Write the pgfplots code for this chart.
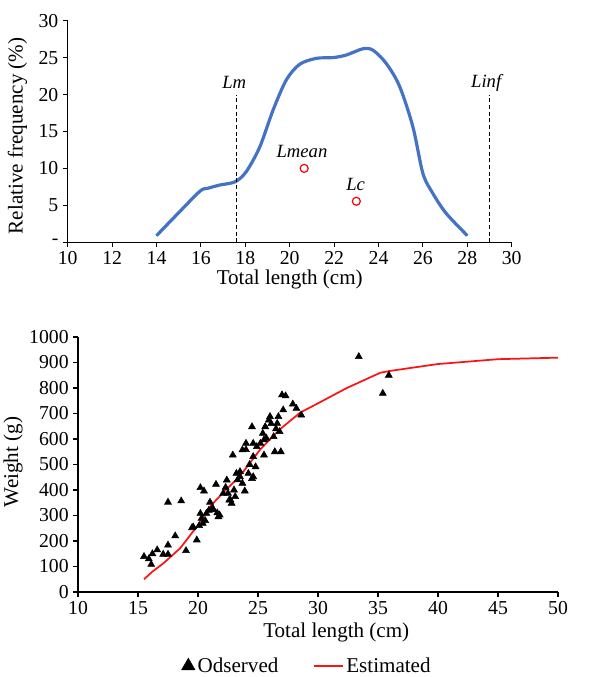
\documentclass[border=0pt]{standalone}
\usepackage{fontspec}
\setmainfont{Liberation Serif}
\usepackage{pgfplots}
\pgfplotsset{compat=1.18}
\definecolor{curveBlue}{RGB}{68,114,196}
\definecolor{estRed}{RGB}{250,20,20}

\pgfplotsset{
  common/.style={
    scale only axis, axis lines=left, axis line style={line width=1.1pt,-},
    tick align=outside, major tick length=3.5pt,
    tick style={line width=0.8pt,black},
    every tick label/.append style={font=\fontsize{14.8}{14.8}\selectfont},
    label style={font=\fontsize{15.8}{15.8}\selectfont},
    /pgf/number format/assume math mode=true,
    /pgf/number format/set thousands separator={},
    clip=false,
  },
}

\pgfplotstableread{
x y
15.5 139
15.9 130
16.1 108
16.2 150
16.6 165
17.1 148
17.5 148
17.5 184
18.1 220
17.5 352
18.6 357
19.0 162
19.5 252
19.6 255
19.9 204
20.1 260
20.2 409
20.5 396
20.2 308
20.3 289
20.4 269
20.6 280
20.7 308
20.9 320
21.0 352
21.2 330
21.3 322
21.5 422
21.6 310
21.7 295
21.8 302
22.1 387
22.3 410
22.4 439
22.5 387
22.6 360
22.7 361
22.8 348
22.9 537
23.0 400
23.1 374
23.2 465
23.3 440
23.5 452
23.5 472
23.7 426
23.9 396
23.7 557
24.0 583
24.0 558
24.2 465
24.3 500
24.5 648
24.5 445
24.6 583
24.6 531
24.8 491
24.6 452
24.9 570
25.2 583
25.5 537
25.5 597
25.4 622
25.6 648
25.7 603
25.9 674
26.0 688
26.1 660
26.3 609
26.5 640
26.6 661
26.7 688
26.8 629
26.4 550
26.9 550
27.0 773
27.3 769
27.1 714
27.9 737
28.2 720
28.6 694
33.4 923
35.4 779
35.9 850
}\observed

\pgfplotstableread{
x y
15.5 50
16.2 80
17.1 112
18.5 171
19.9 256
21.0 335
22.2 395
23.5 455
25.2 560
26.8 637
28.5 703
30.0 740
32.4 800
35.2 860
36.0 867
40.0 894
45.0 913
50.0 919
}\estimated

\pgfplotstableread{
x y
14.0 0.9
14.9 3.7
15.95 6.9
16.3 7.3
16.85 7.75
17.55 8.2
18.05 9.6
18.65 12.9
19.25 17.9
19.85 22.0
20.45 24.1
21.2 24.9
21.95 25.0
22.55 25.35
23.3 26.2
23.75 26.0
24.35 24.2
24.95 21.1
25.55 15.6
26.0 9.3
26.45 6.6
27.05 3.9
28.0 0.9
}\freq

\begin{document}
\begin{tikzpicture}
\useasboundingbox (0pt,0pt) rectangle (456.75pt,-507.75pt);

\begin{axis}[common,
  at={(50.8pt,-181.7pt)}, anchor=south west,
  width=333pt, height=166.2pt,
  xmin=10, xmax=30, ymin=0, ymax=30,
  xtick={10,12,...,30}, ytick={0,5,...,30},
  yticklabels={-,5,10,15,20,25,30},
  xlabel={Total length (cm)}, ylabel={Relative frequency (\%)},
  xlabel style={at={(axis description cs:0.5,-0.17)}, anchor=center},
  ylabel style={at={(axis description cs:-0.113,0.48)}, anchor=center},
]
  \addplot[black, line width=0.6pt, smooth] table {\freq};
  \addplot[curveBlue, line width=2.4pt, smooth] table {\freq};
  \addplot[black, densely dashed, line width=0.6pt] coordinates {(17.6,0) (17.6,20)};
  \addplot[black, densely dashed, line width=0.6pt] coordinates {(29,0) (29,20)};
  \addplot[only marks, mark=o, mark size=3pt, red, mark options={line width=0.9pt}]
    coordinates {(20.65,10.0) (23.0,5.55)};
  \node[font=\fontsize{14}{14}\selectfont\itshape] at (axis cs:17.5,21.6) {Lm};
  \node[font=\fontsize{14}{14}\selectfont\itshape] at (axis cs:28.85,21.6) {Linf};
  \node[font=\fontsize{14}{14}\selectfont\itshape] at (axis cs:20.55,12.3) {Lmean};
  \node[font=\fontsize{14}{14}\selectfont\itshape] at (axis cs:22.97,7.8) {Lc};
\end{axis}

\begin{axis}[common,
  at={(58.5pt,-444pt)}, anchor=south west,
  width=360pt, height=191.25pt,
  xmin=10, xmax=50, ymin=0, ymax=1000,
  xtick={10,15,...,50}, ytick={0,100,...,1000},
  xlabel={Total length (cm)}, ylabel={Weight (g)},
  xlabel style={at={(axis description cs:0.538,-0.16)}, anchor=center},
  ylabel style={at={(axis description cs:-0.135,0.51)}, anchor=center},
  legend columns=2,
  legend style={draw=none, fill=none, at={(axis description cs:0.478,-0.29)}, anchor=center,
    font=\fontsize{15.8}{15.8}\selectfont,
    /tikz/every even column/.append style={column sep=24pt}},
]
  \addplot[only marks, mark=triangle*, mark size=3pt, black,
    legend image code/.code={\draw[black, mark=triangle*, mark size=5.8pt] plot coordinates {(0.22cm,0.0cm)};}]
    table {\observed};
  \addlegendentry{Odserved}
  \addplot[estRed, line width=1.3pt,
    legend image code/.code={\draw[estRed, line width=1.6pt] (0cm,0cm) -- (0.75cm,0cm);}]
    table {\estimated};
  \addlegendentry{Estimated}
\end{axis}
\end{tikzpicture}
\end{document}
